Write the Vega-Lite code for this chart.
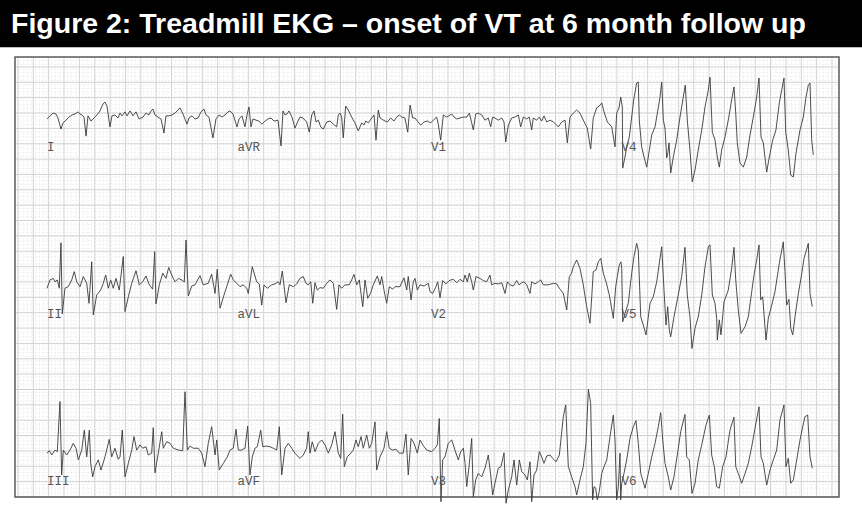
{
"$schema": "https://vega.github.io/schema/vega-lite/v6.json",
"width": 862, "height": 515, "padding": 0,
"autosize": {"type": "none"},
"background": "white",
"config": {"view": {"stroke": null}},
"datasets": {
"vgrid": [-5,-4,-3,-2,-1,0,1,2,3,4,5,6,7,8,9,10,11,12,13,14,15,16,17,18,19,20,21,22,23,24,25,26,27,28,29,30,31,32,33,34,35,36,37,38,39,40,41,42,43,44,45,46,47,48,49,50,51,52,53,54,55,56,57,58,59,60,61,62,63,64,65,66,67,68,69,70,71,72,73,74,75,76,77,78,79,80,81,82,83,84,85,86,87,88,89,90,91,92,93,94,95,96,97,98,99,100,101,102,103,104,105,106,107,108,109,110,111,112,113,114,115,116,117,118,119,120,121,122,123,124,125,126,127,128,129,130,131,132,133,134,135,136,137,138,139,140,141,142,143,144,145,146,147,148,149,150,151,152,153,154,155,156,157,158,159,160,161,162,163,164,165,166,167,168,169,170,171,172,173,174,175,176,177,178,179,180,181,182,183,184,185,186,187,188,189,190,191,192,193,194,195,196,197,198,199,200,201,202,203,204,205,206,207,208,209,210,211,212,213,214,215,216,217,218,219,220,221,222,223,224,225,226,227,228,229,230,231,232,233,234,235,236,237,238,239,240,241,242,243,244,245,246,247,248,249,250,251,252,253,254,255,256,257,258,259,260,261,262],
"hgrid": [0,1,2,3,4,5,6,7,8,9,10,11,12,13,14,15,16,17,18,19,20,21,22,23,24,25,26,27,28,29,30,31,32,33,34,35,36,37,38,39,40,41,42,43,44,45,46,47,48,49,50,51,52,53,54,55,56,57,58,59,60,61,62,63,64,65,66,67,68,69,70,71,72,73,74,75,76,77,78,79,80,81,82,83,84,85,86,87,88,89,90,91,92,93,94,95,96,97,98,99,100,101,102,103,104,105,106,107,108,109,110,111,112,113,114,115,116,117,118,119,120,121,122,123,124,125,126,127,128,129,130,131,132,133,134,135,136,137,138,139,140,141,142,143],
"leads": [
{"lead":"I","row":1,"t":0},{"lead":"aVR","row":1,"t":2.48},{"lead":"V1","row":1,"t":5},{"lead":"V4","row":1,"t":7.48},
{"lead":"II","row":2,"t":0},{"lead":"aVL","row":2,"t":2.48},{"lead":"V2","row":2,"t":5},{"lead":"V5","row":2,"t":7.48},
{"lead":"III","row":3,"t":0},{"lead":"aVF","row":3,"t":2.48},{"lead":"V3","row":3,"t":5},{"lead":"V6","row":3,"t":7.48}],
"r1": [
{"t":0,"v":-0.03},{"t":0.039,"v":0.07},{"t":0.078,"v":0.16},{"t":0.117,"v":0.13},{"t":0.143,"v":0},{"t":0.182,"v":-0.36},{"t":0.208,"v":-0.16},{"t":0.247,"v":-0.07},{"t":0.286,"v":0.03},{"t":0.326,"v":0.10},
{"t":0.365,"v":0.13},{"t":0.404,"v":0.20},{"t":0.430,"v":0.13},{"t":0.456,"v":0.10},{"t":0.482,"v":0.03},{"t":0.508,"v":-0.59},{"t":0.534,"v":0.07},{"t":0.573,"v":-0.10},{"t":0.612,"v":0},{"t":0.651,"v":0.10},
{"t":0.690,"v":0.23},{"t":0.729,"v":0.46},{"t":0.755,"v":0.52},{"t":0.781,"v":0.39},{"t":0.820,"v":-0.29},{"t":0.846,"v":0.07},{"t":0.885,"v":0.10},{"t":0.924,"v":0},{"t":0.951,"v":0.16},{"t":0.977,"v":0.07},
{"t":1.016,"v":0.20},{"t":1.042,"v":0.07},{"t":1.081,"v":0.23},{"t":1.120,"v":0.07},{"t":1.159,"v":0.20},{"t":1.198,"v":-0.03},{"t":1.250,"v":0.03},{"t":1.289,"v":0.16},{"t":1.328,"v":0.10},{"t":1.354,"v":0.23},
{"t":1.380,"v":0.29},{"t":1.406,"v":0.10},{"t":1.445,"v":0.03},{"t":1.484,"v":-0.03},{"t":1.523,"v":-0.49},{"t":1.549,"v":0.07},{"t":1.589,"v":0.07},{"t":1.628,"v":0.10},{"t":1.667,"v":0.16},{"t":1.706,"v":0.26},
{"t":1.732,"v":0.33},{"t":1.771,"v":0.13},{"t":1.823,"v":-0.20},{"t":1.849,"v":0},{"t":1.888,"v":0.07},{"t":1.927,"v":-0.03},{"t":1.966,"v":0},{"t":2.005,"v":0.20},{"t":2.044,"v":0.29},{"t":2.070,"v":0.10},
{"t":2.109,"v":0.03},{"t":2.161,"v":-0.65},{"t":2.200,"v":-0.03},{"t":2.240,"v":0.10},{"t":2.279,"v":0.03},{"t":2.318,"v":0.10},{"t":2.357,"v":0.20},{"t":2.383,"v":0.23},{"t":2.422,"v":0.13},{"t":2.474,"v":-0.29},
{"t":2.500,"v":-0.03},{"t":2.539,"v":0.07},{"t":2.578,"v":-0.29},{"t":2.604,"v":0.10},{"t":2.630,"v":0.36},{"t":2.656,"v":-0.29},{"t":2.682,"v":-0.03},{"t":2.721,"v":-0.07},{"t":2.760,"v":-0.10},{"t":2.799,"v":-0.20},
{"t":2.839,"v":-0.10},{"t":2.878,"v":-0.03},{"t":2.917,"v":0},{"t":2.956,"v":-0.10},{"t":3.008,"v":-0.07},{"t":3.047,"v":-0.91},{"t":3.073,"v":0.23},{"t":3.099,"v":0.10},{"t":3.125,"v":0.13},{"t":3.151,"v":0.23},
{"t":3.190,"v":0.03},{"t":3.229,"v":-0.33},{"t":3.268,"v":-0.10},{"t":3.294,"v":0.03},{"t":3.333,"v":0},{"t":3.381,"v":-0.13},{"t":3.415,"v":-0.46},{"t":3.447,"v":0.10},{"t":3.477,"v":0.23},{"t":3.503,"v":-0.13},
{"t":3.533,"v":-0.07},{"t":3.564,"v":-0.29},{"t":3.598,"v":-0.36},{"t":3.642,"v":-0.13},{"t":3.685,"v":-0.10},{"t":3.728,"v":-0.20},{"t":3.772,"v":-0.29},{"t":3.793,"v":0.10},{"t":3.815,"v":0.16},{"t":3.837,"v":0.03},
{"t":3.858,"v":-0.65},{"t":3.889,"v":0.39},{"t":3.923,"v":0.26},{"t":3.967,"v":0.03},{"t":4.010,"v":-0.16},{"t":4.053,"v":-0.42},{"t":4.098,"v":-0.16},{"t":4.128,"v":-0.23},{"t":4.150,"v":-0.10},{"t":4.184,"v":-0.16},
{"t":4.228,"v":0},{"t":4.258,"v":0.10},{"t":4.284,"v":-0.72},{"t":4.314,"v":0.26},{"t":4.336,"v":0},{"t":4.379,"v":-0.07},{"t":4.431,"v":-0.13},{"t":4.475,"v":0},{"t":4.518,"v":-0.10},{"t":4.553,"v":0.03},
{"t":4.587,"v":0.10},{"t":4.619,"v":0.03},{"t":4.661,"v":0},{"t":4.697,"v":-0.46},{"t":4.727,"v":0.42},{"t":4.762,"v":0},{"t":4.792,"v":0},{"t":4.822,"v":-0.10},{"t":4.866,"v":-0.23},{"t":4.909,"v":-0.13},
{"t":4.952,"v":-0.10},{"t":4.996,"v":-0.16},{"t":5.030,"v":-0.07},{"t":5.074,"v":0.03},{"t":5.095,"v":-0.20},{"t":5.126,"v":-0.72},{"t":5.160,"v":0.10},{"t":5.204,"v":0.03},{"t":5.270,"v":0.13},{"t":5.300,"v":0.03},
{"t":5.335,"v":-0.03},{"t":5.378,"v":0},{"t":5.421,"v":0.03},{"t":5.465,"v":0.03},{"t":5.499,"v":0.16},{"t":5.530,"v":-0.16},{"t":5.551,"v":-0.39},{"t":5.582,"v":0.13},{"t":5.616,"v":0.16},{"t":5.660,"v":0.10},
{"t":5.703,"v":-0.07},{"t":5.746,"v":0},{"t":5.777,"v":-0.29},{"t":5.803,"v":0.03},{"t":5.833,"v":0},{"t":5.876,"v":-0.07},{"t":5.921,"v":0},{"t":5.951,"v":-0.13},{"t":5.973,"v":-0.78},{"t":6.007,"v":-0.23},
{"t":6.051,"v":0},{"t":6.094,"v":0.03},{"t":6.137,"v":0.10},{"t":6.168,"v":-0.29},{"t":6.202,"v":0.03},{"t":6.246,"v":-0.03},{"t":6.280,"v":0.03},{"t":6.311,"v":-0.39},{"t":6.332,"v":0},{"t":6.376,"v":-0.07},
{"t":6.410,"v":0.03},{"t":6.441,"v":-0.10},{"t":6.471,"v":0.07},{"t":6.507,"v":-0.13},{"t":6.550,"v":-0.07},{"t":6.593,"v":-0.13},{"t":6.637,"v":-0.23},{"t":6.658,"v":-0.29},{"t":6.702,"v":-0.13},{"t":6.745,"v":-0.07},
{"t":6.775,"v":-0.81},{"t":6.810,"v":0.03},{"t":6.853,"v":0.16},{"t":6.897,"v":0.26},{"t":6.940,"v":0.16},{"t":6.983,"v":-0.07},{"t":7.035,"v":-0.33},{"t":7.079,"v":-1.01},{"t":7.113,"v":0},{"t":7.158,"v":0.33},
{"t":7.191,"v":0.39},{"t":7.223,"v":0.49},{"t":7.253,"v":0.20},{"t":7.296,"v":-0.13},{"t":7.353,"v":-0.29},{"t":7.396,"v":-0.94},{"t":7.418,"v":0.16},{"t":7.448,"v":0.33},{"t":7.470,"v":0.68},{"t":7.491,"v":0.36},
{"t":7.492,"v":0},{"t":7.496,"v":-1.63},{"t":7.526,"v":-1.27},{"t":7.548,"v":-0.94},{"t":7.582,"v":-0.62},{"t":7.613,"v":0.03},{"t":7.643,"v":0.65},{"t":7.678,"v":1.14},{"t":7.699,"v":1.17},{"t":7.712,"v":-0.07},
{"t":7.743,"v":-0.94},{"t":7.774,"v":-1.27},{"t":7.809,"v":-1.60},{"t":7.843,"v":-1.04},{"t":7.874,"v":-0.55},{"t":7.917,"v":-0.29},{"t":7.947,"v":0.16},{"t":7.982,"v":0.68},{"t":8.004,"v":1.17},{"t":8.025,"v":-0.07},
{"t":8.047,"v":-0.33},{"t":8.069,"v":-1.30},{"t":8.086,"v":-1.11},{"t":8.099,"v":-0.81},{"t":8.121,"v":-1.79},{"t":8.155,"v":-1.27},{"t":8.199,"v":-0.72},{"t":8.242,"v":0.03},{"t":8.285,"v":0.68},{"t":8.311,"v":1.07},
{"t":8.337,"v":-0.07},{"t":8.372,"v":-1.04},{"t":8.402,"v":-2.08},{"t":8.438,"v":-1.69},{"t":8.480,"v":-1.04},{"t":8.525,"v":-0.39},{"t":8.568,"v":0.36},{"t":8.611,"v":0.91},{"t":8.633,"v":1.33},{"t":8.663,"v":-0.46},
{"t":8.698,"v":-0.72},{"t":8.728,"v":-1.27},{"t":8.754,"v":-1.60},{"t":8.785,"v":-1.04},{"t":8.828,"v":-0.62},{"t":8.871,"v":-0.07},{"t":8.915,"v":0.59},{"t":8.945,"v":1.01},{"t":8.968,"v":0.16},{"t":8.988,"v":-0.81},
{"t":9.023,"v":-1.46},{"t":9.067,"v":-1.60},{"t":9.111,"v":-1.27},{"t":9.154,"v":-0.55},{"t":9.197,"v":0.03},{"t":9.241,"v":0.68},{"t":9.271,"v":1.30},{"t":9.297,"v":-0.62},{"t":9.327,"v":-0.81},{"t":9.371,"v":-1.76},
{"t":9.405,"v":-1.27},{"t":9.449,"v":-0.72},{"t":9.492,"v":-0.39},{"t":9.535,"v":0.49},{"t":9.596,"v":1.30},{"t":9.619,"v":-0.46},{"t":9.652,"v":-1.04},{"t":9.684,"v":-1.86},{"t":9.718,"v":-1.92},{"t":9.753,"v":-1.14},
{"t":9.805,"v":-0.39},{"t":9.848,"v":0.03},{"t":9.883,"v":0.68},{"t":9.913,"v":1.07},{"t":9.935,"v":1.14},{"t":9.957,"v":-0.72},{"t":9.978,"v":-1.20}],
"r2": [
{"t":0,"v":-0.04},{"t":0.039,"v":0.23},{"t":0.082,"v":0.28},{"t":0.104,"v":0.17},{"t":0.134,"v":0.23},{"t":0.160,"v":-0.04},{"t":0.182,"v":1.44},{"t":0.199,"v":-0.88},{"t":0.234,"v":-0.04},{"t":0.277,"v":0.01},
{"t":0.322,"v":0.23},{"t":0.355,"v":0.50},{"t":0.387,"v":0.17},{"t":0.430,"v":0.01},{"t":0.473,"v":0.34},{"t":0.517,"v":0.12},{"t":0.547,"v":-0.53},{"t":0.582,"v":0.82},{"t":0.603,"v":-0.91},{"t":0.647,"v":-0.26},
{"t":0.699,"v":-0.10},{"t":0.733,"v":0.12},{"t":0.764,"v":0.39},{"t":0.798,"v":-0.04},{"t":0.829,"v":0.23},{"t":0.863,"v":-0.04},{"t":0.898,"v":0.28},{"t":0.941,"v":-0.10},{"t":0.993,"v":0.99},{"t":1.016,"v":-0.80},
{"t":1.059,"v":-0.32},{"t":1.103,"v":0.12},{"t":1.159,"v":0.53},{"t":1.202,"v":0.07},{"t":1.246,"v":0.17},{"t":1.289,"v":0.36},{"t":1.332,"v":0.07},{"t":1.376,"v":-0.07},{"t":1.402,"v":1.15},{"t":1.419,"v":-0.55},
{"t":1.462,"v":0.07},{"t":1.507,"v":0.45},{"t":1.549,"v":0.28},{"t":1.585,"v":0.64},{"t":1.624,"v":0.39},{"t":1.667,"v":0.17},{"t":1.710,"v":0.28},{"t":1.767,"v":0.21},{"t":1.788,"v":0.16},{"t":1.810,"v":1.53},
{"t":1.840,"v":-0.29},{"t":1.884,"v":0.03},{"t":1.927,"v":0.07},{"t":1.992,"v":0.37},{"t":2.035,"v":0.07},{"t":2.100,"v":0.12},{"t":2.144,"v":0.42},{"t":2.188,"v":-0.21},{"t":2.217,"v":0.58},{"t":2.253,"v":-0.69},
{"t":2.305,"v":-0.26},{"t":2.348,"v":0.07},{"t":2.392,"v":0.42},{"t":2.426,"v":0.23},{"t":2.470,"v":0.12},{"t":2.513,"v":0.01},{"t":2.556,"v":0.07},{"t":2.600,"v":-0.04},{"t":2.621,"v":-0.21},{"t":2.673,"v":0.66},
{"t":2.730,"v":0.17},{"t":2.764,"v":0.10},{"t":2.796,"v":-0.59},{"t":2.826,"v":0.07},{"t":2.869,"v":-0.04},{"t":2.926,"v":0.07},{"t":2.969,"v":0.10},{"t":3.012,"v":0.17},{"t":3.034,"v":0.07},{"t":3.064,"v":0.52},
{"t":3.112,"v":-0.51},{"t":3.155,"v":0.07},{"t":3.207,"v":0.01},{"t":3.251,"v":0.10},{"t":3.294,"v":0.28},{"t":3.337,"v":0.34},{"t":3.372,"v":0.12},{"t":3.402,"v":0.07},{"t":3.434,"v":0.17},{"t":3.460,"v":-0.53},
{"t":3.490,"v":0.14},{"t":3.520,"v":-0.10},{"t":3.555,"v":-0.02},{"t":3.598,"v":-0.04},{"t":3.642,"v":0.12},{"t":3.685,"v":0.23},{"t":3.728,"v":0.12},{"t":3.772,"v":-0.73},{"t":3.802,"v":0.07},{"t":3.837,"v":-0.04},
{"t":3.880,"v":0.07},{"t":3.936,"v":0.07},{"t":3.967,"v":0.23},{"t":3.997,"v":0.41},{"t":4.033,"v":0.07},{"t":4.066,"v":0.23},{"t":4.111,"v":-0.64},{"t":4.141,"v":0.23},{"t":4.176,"v":-0.37},{"t":4.215,"v":-0.19},
{"t":4.249,"v":0.07},{"t":4.301,"v":0.36},{"t":4.336,"v":0.07},{"t":4.358,"v":0.34},{"t":4.388,"v":-0.10},{"t":4.423,"v":-0.53},{"t":4.457,"v":0.01},{"t":4.501,"v":-0.07},{"t":4.531,"v":0.01},{"t":4.596,"v":0.01},
{"t":4.648,"v":0.30},{"t":4.684,"v":-0.10},{"t":4.704,"v":0.34},{"t":4.740,"v":-0.42},{"t":4.770,"v":0.17},{"t":4.792,"v":0.28},{"t":4.822,"v":-0.10},{"t":4.857,"v":0.07},{"t":4.909,"v":0.03},{"t":4.965,"v":0.12},
{"t":4.987,"v":-0.15},{"t":5.022,"v":-0.21},{"t":5.065,"v":0.01},{"t":5.087,"v":0.17},{"t":5.117,"v":-0.35},{"t":5.152,"v":0.21},{"t":5.195,"v":0.10},{"t":5.238,"v":0.21},{"t":5.290,"v":0.25},{"t":5.335,"v":0.14},
{"t":5.378,"v":0.25},{"t":5.421,"v":0.17},{"t":5.443,"v":0.39},{"t":5.473,"v":0.17},{"t":5.499,"v":0.45},{"t":5.530,"v":0.17},{"t":5.551,"v":-0.10},{"t":5.586,"v":0.34},{"t":5.638,"v":0.28},{"t":5.681,"v":0.21},
{"t":5.725,"v":0.17},{"t":5.768,"v":0.39},{"t":5.790,"v":0.07},{"t":5.833,"v":0.12},{"t":5.876,"v":0.10},{"t":5.921,"v":0.14},{"t":5.964,"v":-0.21},{"t":5.994,"v":0.17},{"t":6.029,"v":0.07},{"t":6.072,"v":0.03},
{"t":6.116,"v":0.21},{"t":6.146,"v":0.07},{"t":6.181,"v":0.14},{"t":6.211,"v":0.17},{"t":6.246,"v":0.07},{"t":6.289,"v":-0.21},{"t":6.311,"v":0.17},{"t":6.354,"v":0.10},{"t":6.397,"v":0.17},{"t":6.428,"v":0.23},
{"t":6.462,"v":0.07},{"t":6.527,"v":0.07},{"t":6.593,"v":0.12},{"t":6.637,"v":0.10},{"t":6.671,"v":-0.04},{"t":6.723,"v":-0.21},{"t":6.767,"v":-0.75},{"t":6.801,"v":0.34},{"t":6.832,"v":0.45},{"t":6.853,"v":0.66},
{"t":6.897,"v":0.88},{"t":6.940,"v":0.61},{"t":6.983,"v":0.07},{"t":7.027,"v":-0.64},{"t":7.070,"v":-1.18},{"t":7.093,"v":-0.32},{"t":7.113,"v":0.50},{"t":7.148,"v":0.55},{"t":7.178,"v":0.82},{"t":7.210,"v":0.93},
{"t":7.244,"v":0.45},{"t":7.279,"v":0.17},{"t":7.322,"v":-0.26},{"t":7.374,"v":-1.02},{"t":7.405,"v":0.01},{"t":7.426,"v":0.34},{"t":7.452,"v":0.72},{"t":7.474,"v":0.82},{"t":7.483,"v":0.61},{"t":7.487,"v":0.03},
{"t":7.496,"v":-1.13},{"t":7.526,"v":-0.86},{"t":7.569,"v":-0.53},{"t":7.613,"v":0.45},{"t":7.643,"v":0.99},{"t":7.678,"v":1.42},{"t":7.699,"v":1.20},{"t":7.731,"v":-0.97},{"t":7.764,"v":-1.24},{"t":7.800,"v":-1.56},
{"t":7.852,"v":-0.53},{"t":7.894,"v":-0.32},{"t":7.939,"v":0.17},{"t":7.973,"v":0.77},{"t":8.004,"v":1.31},{"t":8.034,"v":-0.10},{"t":8.060,"v":-1.24},{"t":8.082,"v":-0.64},{"t":8.103,"v":-1.40},{"t":8.121,"v":-1.62},
{"t":8.164,"v":-0.97},{"t":8.207,"v":-0.42},{"t":8.264,"v":0.34},{"t":8.307,"v":1.29},{"t":8.337,"v":-0.26},{"t":8.372,"v":-0.97},{"t":8.398,"v":-2.00},{"t":8.438,"v":-1.34},{"t":8.480,"v":-0.97},{"t":8.525,"v":-0.26},
{"t":8.568,"v":0.66},{"t":8.611,"v":1.31},{"t":8.633,"v":1.37},{"t":8.663,"v":-0.26},{"t":8.698,"v":-0.53},{"t":8.720,"v":-1.02},{"t":8.728,"v":-1.73},{"t":8.754,"v":-1.07},{"t":8.776,"v":-1.56},{"t":8.815,"v":-0.48},
{"t":8.871,"v":-0.10},{"t":8.915,"v":0.61},{"t":8.945,"v":1.29},{"t":8.968,"v":0.23},{"t":9.001,"v":-0.75},{"t":9.037,"v":-1.51},{"t":9.089,"v":-1.29},{"t":9.132,"v":-0.97},{"t":9.176,"v":-0.15},{"t":9.206,"v":0.39},
{"t":9.241,"v":0.88},{"t":9.271,"v":1.37},{"t":9.293,"v":-0.42},{"t":9.319,"v":-0.32},{"t":9.362,"v":-1.73},{"t":9.392,"v":-1.02},{"t":9.437,"v":-0.59},{"t":9.479,"v":-0.15},{"t":9.535,"v":0.77},{"t":9.587,"v":1.47},
{"t":9.609,"v":0.50},{"t":9.631,"v":-0.59},{"t":9.661,"v":-0.40},{"t":9.684,"v":-1.34},{"t":9.710,"v":-1.56},{"t":9.740,"v":-0.97},{"t":9.783,"v":-0.21},{"t":9.814,"v":0.23},{"t":9.857,"v":0.93},{"t":9.913,"v":1.42},
{"t":9.935,"v":-0.21},{"t":9.965,"v":-0.64}],
"r3": [
{"t":0,"v":0.06},{"t":0.030,"v":0.14},{"t":0.061,"v":0},{"t":0.104,"v":0.16},{"t":0.134,"v":0.11},{"t":0.169,"v":1.74},{"t":0.191,"v":-0.65},{"t":0.212,"v":0.16},{"t":0.257,"v":0},{"t":0.299,"v":0.16},
{"t":0.342,"v":0.38},{"t":0.378,"v":0.22},{"t":0.408,"v":-0.16},{"t":0.452,"v":0.16},{"t":0.486,"v":0.81},{"t":0.517,"v":-0.06},{"t":0.551,"v":0.81},{"t":0.569,"v":-0.27},{"t":0.595,"v":-0.71},{"t":0.625,"v":-0.38},
{"t":0.668,"v":-0.16},{"t":0.703,"v":-0.49},{"t":0.755,"v":-0.06},{"t":0.811,"v":0.51},{"t":0.842,"v":-0.06},{"t":0.885,"v":0.22},{"t":0.928,"v":-0.14},{"t":0.951,"v":-0.06},{"t":0.980,"v":0.81},{"t":1.016,"v":-0.71},
{"t":1.059,"v":-0.27},{"t":1.103,"v":0.16},{"t":1.133,"v":0.60},{"t":1.168,"v":0.16},{"t":1.211,"v":0.33},{"t":1.246,"v":0.22},{"t":1.289,"v":0.27},{"t":1.319,"v":0},{"t":1.363,"v":0.06},{"t":1.384,"v":0.89},
{"t":1.406,"v":-0.58},{"t":1.449,"v":0.06},{"t":1.494,"v":0.76},{"t":1.514,"v":0.22},{"t":1.559,"v":0.43},{"t":1.602,"v":0.38},{"t":1.645,"v":0.22},{"t":1.710,"v":0.16},{"t":1.767,"v":0.14},{"t":1.797,"v":2.06},
{"t":1.827,"v":0.16},{"t":1.862,"v":0.29},{"t":1.905,"v":0.22},{"t":1.970,"v":0.22},{"t":2.014,"v":0.06},{"t":2.057,"v":-0.38},{"t":2.100,"v":0.38},{"t":2.144,"v":0.92},{"t":2.188,"v":0},{"t":2.210,"v":0.49},
{"t":2.243,"v":-0.49},{"t":2.296,"v":-0.27},{"t":2.348,"v":-0.06},{"t":2.383,"v":0.16},{"t":2.426,"v":0.22},{"t":2.461,"v":0.84},{"t":2.491,"v":0.16},{"t":2.535,"v":0.16},{"t":2.578,"v":0.22},{"t":2.613,"v":0.94},
{"t":2.643,"v":-0.65},{"t":2.673,"v":-0.06},{"t":2.708,"v":0.22},{"t":2.738,"v":0.27},{"t":2.783,"v":0.81},{"t":2.809,"v":0.27},{"t":2.852,"v":0.29},{"t":2.904,"v":0.27},{"t":2.947,"v":0.22},{"t":2.991,"v":0.16},
{"t":3.025,"v":0.92},{"t":3.056,"v":-0.65},{"t":3.099,"v":0.22},{"t":3.142,"v":0.38},{"t":3.186,"v":0.22},{"t":3.229,"v":0.06},{"t":3.272,"v":-0.06},{"t":3.294,"v":-0.11},{"t":3.337,"v":0},{"t":3.381,"v":0.22},
{"t":3.402,"v":0.76},{"t":3.425,"v":0.06},{"t":3.454,"v":0.43},{"t":3.490,"v":0.11},{"t":3.533,"v":0.38},{"t":3.577,"v":0.49},{"t":3.620,"v":0.33},{"t":3.663,"v":0.06},{"t":3.707,"v":0.33},{"t":3.750,"v":0.76},
{"t":3.793,"v":0.06},{"t":3.824,"v":-0.11},{"t":3.850,"v":1.33},{"t":3.871,"v":-0.38},{"t":3.910,"v":-0.06},{"t":3.954,"v":0.06},{"t":3.988,"v":0.16},{"t":4.023,"v":0.49},{"t":4.053,"v":0.27},{"t":4.089,"v":0.60},
{"t":4.118,"v":0.22},{"t":4.163,"v":0.65},{"t":4.197,"v":0.22},{"t":4.228,"v":0.38},{"t":4.271,"v":1.08},{"t":4.293,"v":-0.49},{"t":4.336,"v":-0.06},{"t":4.388,"v":0.22},{"t":4.423,"v":0.76},{"t":4.457,"v":0.22},
{"t":4.501,"v":0.16},{"t":4.544,"v":0.19},{"t":4.587,"v":0.06},{"t":4.639,"v":0.06},{"t":4.674,"v":0.68},{"t":4.704,"v":-0.65},{"t":4.740,"v":0.54},{"t":4.779,"v":0.38},{"t":4.822,"v":0.06},{"t":4.857,"v":0.49},
{"t":4.892,"v":0.33},{"t":4.944,"v":0.16},{"t":5.009,"v":0.11},{"t":5.052,"v":0.22},{"t":5.082,"v":0.33},{"t":5.108,"v":1.19},{"t":5.130,"v":-1.52},{"t":5.152,"v":-0.16},{"t":5.182,"v":-0.06},{"t":5.225,"v":0.38},
{"t":5.270,"v":0.49},{"t":5.312,"v":0.16},{"t":5.355,"v":-0.16},{"t":5.387,"v":0.11},{"t":5.421,"v":0.22},{"t":5.443,"v":-0.27},{"t":5.465,"v":-1.03},{"t":5.495,"v":-0.38},{"t":5.530,"v":0.54},{"t":5.551,"v":-1.36},
{"t":5.582,"v":-0.81},{"t":5.616,"v":-0.60},{"t":5.660,"v":-0.71},{"t":5.703,"v":-0.43},{"t":5.746,"v":0},{"t":5.777,"v":-0.65},{"t":5.803,"v":-1.30},{"t":5.833,"v":-0.92},{"t":5.876,"v":-0.43},{"t":5.911,"v":-0.38},
{"t":5.951,"v":0.07},{"t":5.977,"v":-1.57},{"t":6.007,"v":-1.14},{"t":6.051,"v":-0.71},{"t":6.081,"v":-0.16},{"t":6.116,"v":-0.98},{"t":6.150,"v":-0.16},{"t":6.181,"v":-0.54},{"t":6.224,"v":-0.65},{"t":6.254,"v":-0.81},
{"t":6.289,"v":-0.22},{"t":6.311,"v":-1.52},{"t":6.341,"v":-0.65},{"t":6.376,"v":-0.49},{"t":6.410,"v":0.11},{"t":6.441,"v":-0.06},{"t":6.471,"v":-0.27},{"t":6.507,"v":-0.03},{"t":6.550,"v":0},{"t":6.585,"v":-0.11},
{"t":6.628,"v":-0.22},{"t":6.671,"v":0},{"t":6.723,"v":1.25},{"t":6.754,"v":1.63},{"t":6.788,"v":-0.38},{"t":6.832,"v":-0.71},{"t":6.875,"v":-1.03},{"t":6.897,"v":-1.30},{"t":6.940,"v":-0.81},{"t":6.983,"v":-0.38},
{"t":7.018,"v":0.38},{"t":7.049,"v":2.14},{"t":7.079,"v":1.68},{"t":7.105,"v":-1.46},{"t":7.122,"v":-1.03},{"t":7.144,"v":-1.07},{"t":7.165,"v":-1.46},{"t":7.191,"v":-1.19},{"t":7.223,"v":-0.60},{"t":7.253,"v":-0.38},
{"t":7.288,"v":-0.16},{"t":7.331,"v":0.60},{"t":7.374,"v":1.30},{"t":7.396,"v":0.49},{"t":7.418,"v":-1.46},{"t":7.439,"v":-1.03},{"t":7.461,"v":0.06},{"t":7.470,"v":-1.46},{"t":7.483,"v":-0.92},{"t":7.513,"v":-0.60},
{"t":7.548,"v":-0.16},{"t":7.591,"v":0.54},{"t":7.634,"v":0.92},{"t":7.669,"v":1.12},{"t":7.699,"v":0.38},{"t":7.731,"v":-0.60},{"t":7.787,"v":-1.08},{"t":7.830,"v":-0.60},{"t":7.874,"v":-0.06},{"t":7.917,"v":0.38},
{"t":7.960,"v":0.92},{"t":7.991,"v":1.38},{"t":8.017,"v":0.49},{"t":8.047,"v":-0.27},{"t":8.090,"v":-0.71},{"t":8.121,"v":-1.14},{"t":8.164,"v":-0.71},{"t":8.207,"v":0},{"t":8.251,"v":0.76},{"t":8.307,"v":1.32},
{"t":8.329,"v":-0.06},{"t":8.363,"v":-0.16},{"t":8.398,"v":-1.25},{"t":8.438,"v":-0.92},{"t":8.480,"v":-0.16},{"t":8.525,"v":0.33},{"t":8.581,"v":0.98},{"t":8.624,"v":1.30},{"t":8.655,"v":0},{"t":8.689,"v":-0.38},
{"t":8.720,"v":-1.03},{"t":8.754,"v":-1.08},{"t":8.798,"v":-0.38},{"t":8.841,"v":-0.06},{"t":8.893,"v":0.81},{"t":8.945,"v":1.23},{"t":8.968,"v":-0.38},{"t":9.001,"v":-0.60},{"t":9.046,"v":-0.92},{"t":9.089,"v":-0.60},
{"t":9.132,"v":-0.27},{"t":9.176,"v":0.27},{"t":9.219,"v":0.87},{"t":9.271,"v":1.57},{"t":9.297,"v":-0.06},{"t":9.327,"v":-0.27},{"t":9.371,"v":-0.98},{"t":9.414,"v":-0.49},{"t":9.457,"v":-0.16},{"t":9.501,"v":0.16},
{"t":9.544,"v":1.14},{"t":9.596,"v":1.63},{"t":9.622,"v":-0.38},{"t":9.652,"v":-0.11},{"t":9.684,"v":-0.92},{"t":9.718,"v":-0.81},{"t":9.762,"v":-0.16},{"t":9.805,"v":0.49},{"t":9.840,"v":0.92},{"t":9.870,"v":1.25},
{"t":9.905,"v":1.30},{"t":9.935,"v":-0.06},{"t":9.965,"v":-0.43}]
},
"layer": [
{"data": {"values": [{"title": "Figure 2: Treadmill EKG \u2013 onset of VT at 6 month follow up"}]},
 "mark": {"type": "rect", "color": "#000000"},
 "encoding": {
  "x": {"datum": -10.84, "type": "quantitative", "scale": {"domain": [-10.84, 269.76], "nice": false, "zero": false}, "axis": null},
  "x2": {"datum": 269.76},
  "y": {"datum": 146.4, "type": "quantitative", "scale": {"domain": [-5.859, 161.79], "nice": false, "zero": false}, "axis": null},
  "y2": {"datum": 161.79}}},
{"data": {"name": "vgrid"}, "transform": [{"filter": "datum.data % 5 !== 0"}],
 "mark": {"type": "rule", "color": "#e8e8e8", "strokeWidth": 1, "strokeDash": [1, 3]},
 "encoding": {
  "x": {"field": "data", "type": "quantitative", "scale": {"domain": [-10.84, 269.76], "nice": false, "zero": false}, "axis": null},
  "y": {"datum": 0, "type": "quantitative", "scale": {"domain": [-5.859, 161.79], "nice": false, "zero": false}, "axis": null},
  "y2": {"datum": 143.23}}},
{"data": {"name": "hgrid"}, "transform": [{"filter": "datum.data % 5 !== 0"}],
 "mark": {"type": "rule", "color": "#e8e8e8", "strokeWidth": 1, "strokeDash": [1, 3]},
 "encoding": {
  "y": {"field": "data", "type": "quantitative", "scale": {"domain": [-5.859, 161.79], "nice": false, "zero": false}, "axis": null},
  "x": {"datum": -5.96, "type": "quantitative", "scale": {"domain": [-10.84, 269.76], "nice": false, "zero": false}, "axis": null},
  "x2": {"datum": 262.27}}},
{"data": {"name": "vgrid"}, "transform": [{"filter": "datum.data % 5 === 0"}],
 "mark": {"type": "rule", "color": "#d2d2d2", "strokeWidth": 1},
 "encoding": {
  "x": {"field": "data", "type": "quantitative", "scale": {"domain": [-10.84, 269.76], "nice": false, "zero": false}, "axis": null},
  "y": {"datum": 0, "type": "quantitative", "scale": {"domain": [-5.859, 161.79], "nice": false, "zero": false}, "axis": null},
  "y2": {"datum": 143.23}}},
{"data": {"name": "hgrid"}, "transform": [{"filter": "datum.data % 5 === 0"}],
 "mark": {"type": "rule", "color": "#d2d2d2", "strokeWidth": 1},
 "encoding": {
  "y": {"field": "data", "type": "quantitative", "scale": {"domain": [-5.859, 161.79], "nice": false, "zero": false}, "axis": null},
  "x": {"datum": -5.96, "type": "quantitative", "scale": {"domain": [-10.84, 269.76], "nice": false, "zero": false}, "axis": null},
  "x2": {"datum": 262.27}}},
{"data": {"values": [{"paper": "border"}]},
 "mark": {"type": "rect", "fill": null, "fillOpacity": 0, "stroke": "#5a5a5a", "strokeWidth": 1.5},
 "encoding": {
  "x": {"datum": -5.96, "type": "quantitative", "scale": {"domain": [-10.84, 269.76], "nice": false, "zero": false}, "axis": null},
  "x2": {"datum": 262.27},
  "y": {"datum": 0, "type": "quantitative", "scale": {"domain": [-5.859, 161.79], "nice": false, "zero": false}, "axis": null},
  "y2": {"datum": 143.23}}},
{"data": {"values": [{"title": "Figure 2: Treadmill EKG \u2013 onset of VT at 6 month follow up"}]},
 "mark": {"type": "text", "color": "#ffffff", "font": "Liberation Sans", "fontSize": 28.5, "fontWeight": "bold", "align": "left", "baseline": "middle"},
 "encoding": {
  "text": {"field": "title"},
  "x": {"datum": -7.26, "type": "quantitative", "scale": {"domain": [-10.84, 269.76], "nice": false, "zero": false}, "axis": null},
  "y": {"datum": 154.0, "type": "quantitative", "scale": {"domain": [-5.859, 161.79], "nice": false, "zero": false}, "axis": null}}},
{"data": {"name": "r1"},
 "mark": {"type": "line", "color": "#3a3a3a", "strokeWidth": 0.9, "clip": false},
 "encoding": {
  "x": {"field": "t", "type": "quantitative", "scale": {"domain": [-0.612, 10.612], "nice": false, "zero": false}, "axis": null},
  "y": {"field": "v", "type": "quantitative", "scale": {"domain": [-12.923, 3.841], "nice": false, "zero": false}, "axis": null}}},
{"data": {"name": "r2"},
 "mark": {"type": "line", "color": "#3a3a3a", "strokeWidth": 0.9, "clip": false},
 "encoding": {
  "x": {"field": "t", "type": "quantitative", "scale": {"domain": [-0.612, 10.612], "nice": false, "zero": false}, "axis": null},
  "y": {"field": "v", "type": "quantitative", "scale": {"domain": [-7.422, 9.342], "nice": false, "zero": false}, "axis": null}}},
{"data": {"name": "r3"},
 "mark": {"type": "line", "color": "#3a3a3a", "strokeWidth": 0.9, "clip": false},
 "encoding": {
  "x": {"field": "t", "type": "quantitative", "scale": {"domain": [-0.612, 10.612], "nice": false, "zero": false}, "axis": null},
  "y": {"field": "v", "type": "quantitative", "scale": {"domain": [-1.953, 14.811], "nice": false, "zero": false}, "axis": null}}},
{"data": {"name": "leads"}, "transform": [{"filter": "datum.row === 1"}],
 "mark": {"type": "text", "color": "#555555", "font": "Liberation Mono", "fontSize": 12.5, "align": "left", "baseline": "middle"},
 "encoding": {
  "text": {"field": "lead"},
  "x": {"field": "t", "type": "quantitative", "scale": {"domain": [-0.612, 10.612], "nice": false, "zero": false}, "axis": null},
  "y": {"datum": -0.94, "type": "quantitative", "scale": {"domain": [-12.923, 3.841], "nice": false, "zero": false}, "axis": null}}},
{"data": {"name": "leads"}, "transform": [{"filter": "datum.row === 2"}],
 "mark": {"type": "text", "color": "#555555", "font": "Liberation Mono", "fontSize": 12.5, "align": "left", "baseline": "middle"},
 "encoding": {
  "text": {"field": "lead"},
  "x": {"field": "t", "type": "quantitative", "scale": {"domain": [-0.612, 10.612], "nice": false, "zero": false}, "axis": null},
  "y": {"datum": -0.88, "type": "quantitative", "scale": {"domain": [-7.422, 9.342], "nice": false, "zero": false}, "axis": null}}},
{"data": {"name": "leads"}, "transform": [{"filter": "datum.row === 3"}],
 "mark": {"type": "text", "color": "#555555", "font": "Liberation Mono", "fontSize": 12.5, "align": "left", "baseline": "middle"},
 "encoding": {
  "text": {"field": "lead"},
  "x": {"field": "t", "type": "quantitative", "scale": {"domain": [-0.612, 10.612], "nice": false, "zero": false}, "axis": null},
  "y": {"datum": -0.84, "type": "quantitative", "scale": {"domain": [-1.953, 14.811], "nice": false, "zero": false}, "axis": null}}}
],
"resolve": {"scale": {"x": "independent", "y": "independent"}}
}
